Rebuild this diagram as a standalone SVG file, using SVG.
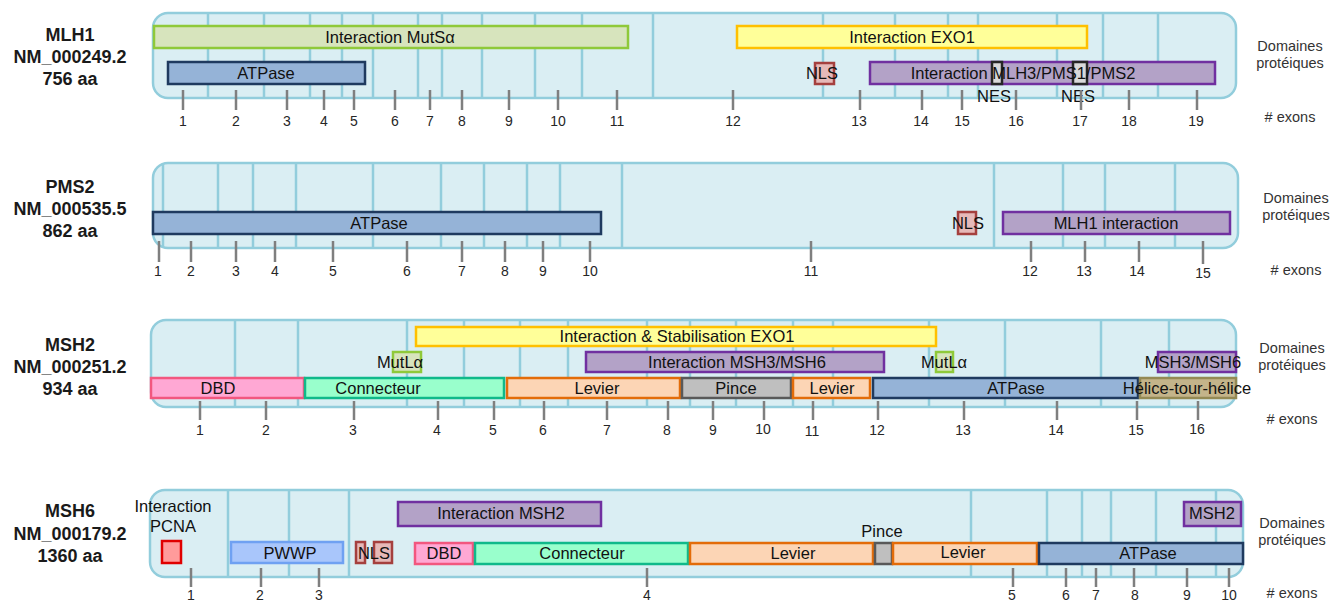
<svg xmlns="http://www.w3.org/2000/svg" width="1332" height="602" viewBox="0 0 1332 602">
  <style>
    text { font-family: "Liberation Sans", Arial, sans-serif; }
    .prot { fill: #daeef3; stroke: #92cddc; stroke-width: 2.5; }
    .exl { stroke: #92cddc; stroke-width: 2.5; fill: none; }
    .tick { stroke: #7f7f7f; stroke-width: 2.5; fill: none; }
    .num { font-size: 14px; fill: #262626; text-anchor: middle; }
    .gene { font-size: 18px; font-weight: bold; fill: #1a1a1a; text-anchor: middle; }
    .side { font-size: 14.5px; fill: #333333; text-anchor: middle; }
    .lbl { font-size: 16.5px; fill: #111111; text-anchor: middle; }
    .dom { stroke-width: 2.5; }
    .mut { fill: #d7e4bd; stroke: #8fc93a; }
    .exo { fill: #ffff99; stroke: #ffc000; }
    .atp { fill: #95b3d7; stroke: #1f3a5f; }
    .nls { fill: #e6b9b8; stroke: #a5403e; }
    .pur { fill: #b3a2c7; stroke: #7030a0; }
    .nes { fill: #d9d9d9; stroke: #262626; }
    .dbd { fill: #ffa8d4; stroke: #f2577f; }
    .con { fill: #99ffcc; stroke: #10b98a; }
    .lev { fill: #fcd5b5; stroke: #e36c09; }
    .pin { fill: #bfbfbf; stroke: #595959; }
    .htc { fill: #c4b48a; stroke: #948a54; }
    .pcna { fill: #ff9b9b; stroke: #e00000; }
    .pww { fill: #a9c6fb; stroke: #6fa1f2; }
  </style>

  <!-- ===================== MLH1 ===================== -->
  <g id="mlh1-title">
    <text class="gene" x="70" y="41">MLH1</text>
    <text class="gene" x="70" y="63">NM_000249.2</text>
    <text class="gene" x="70" y="85">756 aa</text>
  </g>
  <g id="mlh1-protein">
    <rect class="prot" x="153" y="13" width="1083" height="85" rx="15"/>
    <path class="exl" d="M208 13V98M264 13V98M310 13V98M342 13V98M373 13V98M418 13V98M442 13V98M482 13V98M535 13V98M582 13V98M653 13V98M823 13V98M895 13V98M948 13V98M978 13V98M1057 13V98M1103 13V98M1158 13V98"/>
  </g>
  <g id="mlh1-mutsa">
    <rect class="dom mut" x="154" y="26" width="474" height="22"/>
    <text class="lbl" x="390" y="43">Interaction MutSα</text>
  </g>
  <g id="mlh1-exo1">
    <rect class="dom exo" x="737" y="26" width="350" height="22"/>
    <text class="lbl" x="912" y="43">Interaction EXO1</text>
  </g>
  <g id="mlh1-atpase">
    <rect class="dom atp" x="168" y="62" width="197" height="22"/>
    <text class="lbl" x="266" y="79">ATPase</text>
  </g>
  <g id="mlh1-nls">
    <rect class="dom nls" x="815" y="63" width="19" height="21"/>
    <text class="lbl" x="822" y="79">NLS</text>
  </g>
  <g id="mlh1-mlh3-pms1-pms2">
    <rect class="dom pur" x="870" y="62" width="345" height="22"/>
  </g>
  <g id="mlh1-nes-1">
    <rect class="dom nes" x="992" y="62" width="10" height="22"/>
    <text class="lbl" x="994" y="102">NES</text>
  </g>
  <g id="mlh1-nes-2">
    <rect class="dom nes" x="1073" y="62" width="14" height="22"/>
    <text class="lbl" x="1078" y="102">NES</text>
  </g>
  <text class="lbl" x="1023" y="79">Interaction MLH3/PMS1/PMS2</text>
  <g id="mlh1-side">
    <text class="side" x="1290" y="51">Domaines</text>
    <text class="side" x="1290" y="68">protéiques</text>
    <text class="side" x="1290" y="122"># exons</text>
  </g>
  <g id="mlh1-exon-numbers">
    <text class="num" x="183" y="126">1</text>
    <text class="num" x="236" y="126">2</text>
    <text class="num" x="287" y="126">3</text>
    <text class="num" x="324" y="126">4</text>
    <text class="num" x="354" y="126">5</text>
    <text class="num" x="395" y="126">6</text>
    <text class="num" x="430" y="126">7</text>
    <text class="num" x="462" y="126">8</text>
    <text class="num" x="509" y="126">9</text>
    <text class="num" x="558" y="126">10</text>
    <text class="num" x="617" y="126">11</text>
    <text class="num" x="733" y="126">12</text>
    <text class="num" x="859" y="126">13</text>
    <text class="num" x="921" y="126">14</text>
    <text class="num" x="962" y="126">15</text>
    <text class="num" x="1016" y="126">16</text>
    <text class="num" x="1080" y="126">17</text>
    <text class="num" x="1129" y="126">18</text>
    <text class="num" x="1196" y="126">19</text>
  </g>

  <!-- ===================== PMS2 ===================== -->
  <g id="pms2-title">
    <text class="gene" x="70" y="193">PMS2</text>
    <text class="gene" x="70" y="215">NM_000535.5</text>
    <text class="gene" x="70" y="237">862 aa</text>
  </g>
  <g id="pms2-protein">
    <rect class="prot" x="153" y="163" width="1085" height="85" rx="15"/>
    <path class="exl" d="M163 163V248M218 163V248M253 163V248M296 163V248M373 163V248M441 163V248M484 163V248M527 163V248M560 163V248M622 163V248M994 163V248M1063 163V248M1105 163V248M1175 163V248"/>
  </g>
  <g id="pms2-atpase">
    <rect class="dom atp" x="153" y="212" width="448" height="22"/>
    <text class="lbl" x="379" y="229">ATPase</text>
  </g>
  <g id="pms2-nls">
    <rect class="dom nls" x="958" y="212" width="18" height="22"/>
    <text class="lbl" x="968" y="229">NLS</text>
  </g>
  <g id="pms2-mlh1">
    <rect class="dom pur" x="1003" y="212" width="227" height="22"/>
    <text class="lbl" x="1116" y="229">MLH1 interaction</text>
  </g>
  <g id="pms2-side">
    <text class="side" x="1296" y="203">Domaines</text>
    <text class="side" x="1296" y="220">protéiques</text>
    <text class="side" x="1296" y="275"># exons</text>
  </g>
  <g id="pms2-exon-numbers">
    <text class="num" x="158" y="276">1</text>
    <text class="num" x="191" y="276">2</text>
    <text class="num" x="236" y="276">3</text>
    <text class="num" x="275" y="276">4</text>
    <text class="num" x="333" y="276">5</text>
    <text class="num" x="407" y="276">6</text>
    <text class="num" x="462" y="276">7</text>
    <text class="num" x="505" y="276">8</text>
    <text class="num" x="543" y="276">9</text>
    <text class="num" x="590" y="276">10</text>
    <text class="num" x="811" y="276">11</text>
    <text class="num" x="1030" y="276">12</text>
    <text class="num" x="1084" y="276">13</text>
    <text class="num" x="1137" y="276">14</text>
    <text class="num" x="1203" y="278">15</text>
  </g>

  <!-- ===================== MSH2 ===================== -->
  <g id="msh2-title">
    <text class="gene" x="70" y="351">MSH2</text>
    <text class="gene" x="70" y="373">NM_000251.2</text>
    <text class="gene" x="70" y="395">934 aa</text>
  </g>
  <g id="msh2-protein">
    <rect class="prot" x="151" y="320" width="1085" height="87" rx="15"/>
    <path class="exl" d="M235 320V407M298 320V407M407 320V407M464 320V407M520 320V407M568 320V407M647 320V407M690 320V407M736 320V407M793 320V407M833 320V407M929 320V407M1005 320V407M1101 320V407M1169 320V407"/>
  </g>
  <g id="msh2-exo1">
    <rect class="dom exo" x="416" y="327" width="520" height="19"/>
    <text class="lbl" x="677" y="342">Interaction &amp; Stabilisation EXO1</text>
  </g>
  <g id="msh2-mutla-1">
    <rect class="dom mut" x="393" y="352" width="28" height="20"/>
    <text class="lbl" x="400" y="368">MutLα</text>
  </g>
  <g id="msh2-msh3-msh6">
    <rect class="dom pur" x="586" y="352" width="298" height="20"/>
    <text class="lbl" x="737" y="368">Interaction MSH3/MSH6</text>
  </g>
  <g id="msh2-mutla-2">
    <rect class="dom mut" x="936" y="352" width="17" height="20"/>
    <text class="lbl" x="944" y="368">MutLα</text>
  </g>
  <g id="msh2-msh3-msh6-c">
    <rect class="dom pur" x="1158" y="352" width="78" height="20"/>
    <text class="lbl" x="1193" y="368">MSH3/MSH6</text>
  </g>
  <g id="msh2-dbd">
    <rect class="dom dbd" x="151" y="378" width="153" height="20"/>
    <text class="lbl" x="218" y="394">DBD</text>
  </g>
  <g id="msh2-connecteur">
    <rect class="dom con" x="305" y="378" width="199" height="20"/>
    <text class="lbl" x="378" y="394">Connecteur</text>
  </g>
  <g id="msh2-levier-1">
    <rect class="dom lev" x="507" y="378" width="173" height="20"/>
    <text class="lbl" x="597" y="394">Levier</text>
  </g>
  <g id="msh2-pince">
    <rect class="dom pin" x="682" y="378" width="109" height="20"/>
    <text class="lbl" x="736" y="394">Pince</text>
  </g>
  <g id="msh2-levier-2">
    <rect class="dom lev" x="793" y="378" width="77" height="20"/>
    <text class="lbl" x="832" y="394">Levier</text>
  </g>
  <g id="msh2-atpase">
    <rect class="dom atp" x="873" y="378" width="265" height="20"/>
    <text class="lbl" x="1016" y="394">ATPase</text>
  </g>
  <g id="msh2-htc">
    <rect class="dom htc" x="1140" y="378" width="96" height="20"/>
    <text class="lbl" x="1187" y="394">Hélice-tour-hélice</text>
  </g>
  <g id="msh2-side">
    <text class="side" x="1292" y="353">Domaines</text>
    <text class="side" x="1292" y="370">protéiques</text>
    <text class="side" x="1292" y="424"># exons</text>
  </g>
  <g id="msh2-exon-numbers">
    <text class="num" x="200" y="435">1</text>
    <text class="num" x="266" y="435">2</text>
    <text class="num" x="353" y="435">3</text>
    <text class="num" x="437" y="435">4</text>
    <text class="num" x="493" y="435">5</text>
    <text class="num" x="543" y="435">6</text>
    <text class="num" x="607" y="435">7</text>
    <text class="num" x="667" y="435">8</text>
    <text class="num" x="713" y="435">9</text>
    <text class="num" x="763" y="434">10</text>
    <text class="num" x="812" y="436">11</text>
    <text class="num" x="877" y="435">12</text>
    <text class="num" x="963" y="435">13</text>
    <text class="num" x="1056" y="435">14</text>
    <text class="num" x="1136" y="435">15</text>
    <text class="num" x="1197" y="434">16</text>
  </g>

  <!-- ===================== MSH6 ===================== -->
  <g id="msh6-title">
    <text class="gene" x="70" y="517">MSH6</text>
    <text class="gene" x="70" y="540">NM_000179.2</text>
    <text class="gene" x="70" y="562">1360 aa</text>
  </g>
  <g id="msh6-protein">
    <rect class="prot" x="150" y="490" width="1093" height="87" rx="15"/>
    <path class="exl" d="M228 490V577M289 490V577M349 490V577M971 490V577M1047 490V577M1082 490V577M1111 490V577M1156 490V577M1216 490V577"/>
  </g>
  <g id="msh6-pcna">
    <text class="lbl" x="173" y="512">Interaction</text>
    <text class="lbl" x="173" y="532">PCNA</text>
    <rect class="dom pcna" x="162" y="541" width="19" height="22"/>
  </g>
  <g id="msh6-pwwp">
    <rect class="dom pww" x="231" y="542" width="112" height="21"/>
    <text class="lbl" x="290" y="559">PWWP</text>
  </g>
  <g id="msh6-nls">
    <rect class="dom nls" x="356" y="542" width="9" height="21"/>
    <rect class="dom nls" x="374" y="542" width="18" height="21"/>
    <text class="lbl" x="374" y="559">NLS</text>
  </g>
  <g id="msh6-msh2-a">
    <rect class="dom pur" x="398" y="502" width="203" height="24"/>
    <text class="lbl" x="501" y="519">Interaction MSH2</text>
  </g>
  <g id="msh6-dbd">
    <rect class="dom dbd" x="415" y="543" width="58" height="21"/>
    <text class="lbl" x="444" y="559">DBD</text>
  </g>
  <g id="msh6-connecteur">
    <rect class="dom con" x="475" y="543" width="213" height="21"/>
    <text class="lbl" x="582" y="559">Connecteur</text>
  </g>
  <g id="msh6-levier-1">
    <rect class="dom lev" x="690" y="543" width="183" height="21"/>
    <text class="lbl" x="793" y="559">Levier</text>
  </g>
  <g id="msh6-pince">
    <text class="lbl" x="882" y="537">Pince</text>
    <rect class="dom pin" x="875" y="543" width="17" height="21"/>
  </g>
  <g id="msh6-levier-2">
    <rect class="dom lev" x="893" y="543" width="144" height="21"/>
    <text class="lbl" x="963" y="558">Levier</text>
  </g>
  <g id="msh6-atpase">
    <rect class="dom atp" x="1039" y="543" width="204" height="21"/>
    <text class="lbl" x="1148" y="559">ATPase</text>
  </g>
  <g id="msh6-msh2-c">
    <rect class="dom pur" x="1184" y="502" width="57" height="24"/>
    <text class="lbl" x="1212" y="519">MSH2</text>
  </g>
  <g id="msh6-side">
    <text class="side" x="1292" y="528">Domaines</text>
    <text class="side" x="1292" y="545">protéiques</text>
    <text class="side" x="1292" y="598"># exons</text>
  </g>
  <g id="msh6-exon-numbers">
    <text class="num" x="191" y="600">1</text>
    <text class="num" x="260" y="600">2</text>
    <text class="num" x="319" y="600">3</text>
    <text class="num" x="647" y="600">4</text>
    <text class="num" x="1012" y="600">5</text>
    <text class="num" x="1066" y="600">6</text>
    <text class="num" x="1096" y="600">7</text>
    <text class="num" x="1135" y="600">8</text>
    <text class="num" x="1187" y="600">9</text>
    <text class="num" x="1229" y="600">10</text>
  </g>

  <!-- exon position ticks -->
  <g id="exon-ticks">
    <path class="tick" d="M183 90V110M236 90V110M287 90V110M324 90V110M354 90V110M395 90V110M430 90V110M462 90V110M509 90V110M558 90V110M617 90V110M733 90V110M860 90V110M922 90V110M962 90V110M1016 90V110M1081 90V110M1129 90V110M1197 90V110"/>
    <path class="tick" d="M159 241V262M191 241V262M236 241V262M275 241V262M333 241V262M407 241V262M462 241V262M505 241V262M543 241V262M590 241V262M811 241V262M1031 241V262M1085 241V262M1139 241V262M1203 241V264"/>
    <path class="tick" d="M200 401V420M266 401V420M354 401V420M438 401V420M494 401V420M544 401V420M607 401V420M668 401V420M713 401V420M764 401V420M813 401V420M878 401V420M964 401V420M1057 401V420M1137 401V420M1198 401V420"/>
    <path class="tick" d="M191 568V587M261 568V587M319 568V587M647 568V587M1013 568V587M1066 568V587M1096 568V587M1134 568V587M1187 568V587M1229 568V587"/>
  </g>
</svg>
